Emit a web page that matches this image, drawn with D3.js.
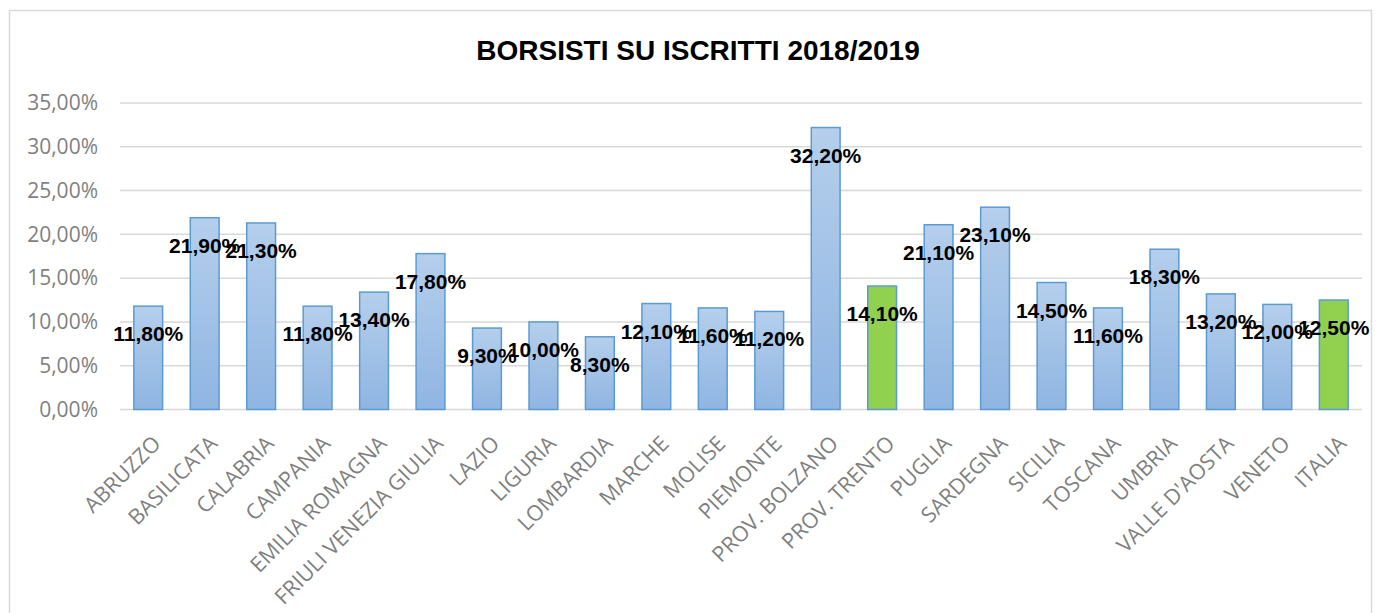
<!DOCTYPE html>
<html>
<head>
<meta charset="utf-8">
<script src="https://cdn.jsdelivr.net/npm/d3@7"></script>
<style>
  body { margin: 0; background: #fff; }
  svg { display: block; }
</style>
</head>
<body>
<div id="chart"></div>
<script>
// Borsisti su iscritti bar chart

// chart data
const regions = ["ABRUZZO", "BASILICATA", "CALABRIA", "CAMPANIA", "EMILIA ROMAGNA",
  "FRIULI VENEZIA GIULIA", "LAZIO", "LIGURIA", "LOMBARDIA", "MARCHE", "MOLISE",
  "PIEMONTE", "PROV. BOLZANO", "PROV. TRENTO", "PUGLIA", "SARDEGNA", "SICILIA",
  "TOSCANA", "UMBRIA", "VALLE D'AOSTA", "VENETO", "ITALIA"];
const values = [11.8, 21.9, 21.3, 11.8, 13.4, 17.8, 9.3, 10.0, 8.3, 12.1, 11.6,
  11.2, 32.2, 14.1, 21.1, 23.1, 14.5, 11.6, 18.3, 13.2, 12.0, 12.5];
const highlighted = ["PROV. TRENTO", "ITALIA"]; // green bars
const yTicks = [0, 5, 10, 15, 20, 25, 30, 35];
const title = "BORSISTI SU ISCRITTI 2018/2019";

const width = 1381,
    height = 613,
    margin = ({ top: 103, right: 19, bottom: 203.5, left: 120 });

const data = regions.map((r, i) => ({ region: r, value: values[i] }));

const svg = d3.select("#chart")
  .append("svg")
  .attr("width", width)
  .attr("height", height);

// bar gradient
const grad = svg.append("defs").append("linearGradient")
  .attr("id", "barGrad")
  .attr("x1", 0).attr("y1", 0).attr("x2", 0).attr("y2", 1);
grad.append("stop").attr("offset", "0%").attr("stop-color", "#b5cfec");
grad.append("stop").attr("offset", "100%").attr("stop-color", "#8fb5e2");

// outer frame
svg.append("rect")
  .attr("x", 9.5).attr("y", 10.5)
  .attr("width", 1362).attr("height", 620)
  .attr("fill", "#fff")
  .attr("stroke", "#d9d9d9")
  .attr("stroke-width", 1.5);

let x = d3.scaleBand()
  .domain(regions)
  .range([margin.left, width - margin.right])
  .paddingInner(0.49)
  .paddingOuter(0.245);

let y = d3.scaleLinear()
  .domain([0, 35])
  .range([height - margin.bottom, margin.top]);

// gridlines
svg.append("g")
  .selectAll("line")
  .data(yTicks)
  .join("line")
  .attr("x1", margin.left)
  .attr("x2", width - margin.right)
  .attr("y1", d => y(d))
  .attr("y2", d => y(d))
  .attr("stroke", "#d9d9d9")
  .attr("stroke-width", 1.5);

// y axis labels
svg.append("g")
  .attr("transform", `translate(${margin.left},0)`)
  .call(d3.axisLeft(y)
    .tickValues(yTicks)
    .tickSize(0)
    .tickPadding(22)
    .tickFormat(d => d3.format(".2f")(d).replace(".", ",") + "%"))
  .call(g => g.select(".domain").remove())
  .call(g => g.selectAll("text")
    .attr("fill", "#7f7f7f")
    .attr("font-family", "Open Sans, sans-serif")
    .attr("font-size", "21px"));

// bars
svg.append("g")
  .selectAll("rect")
  .data(data)
  .join("rect")
  .attr("x", d => x(d.region))
  .attr("y", d => y(d.value))
  .attr("width", x.bandwidth())
  .attr("height", d => y(0) - y(d.value))
  .attr("fill", d => highlighted.includes(d.region) ? "#92d050" : "url(#barGrad)")
  .attr("stroke", "#5b9bd5")
  .attr("stroke-width", 1.5);

// x axis labels
svg.append("g")
  .selectAll("text")
  .data(data)
  .join("text")
  .attr("transform", d => `translate(${x(d.region) + x.bandwidth() / 2 + 3},434) rotate(-45)`)
  .attr("text-anchor", "end")
  .attr("dy", "0.72em")
  .attr("fill", "#7f7f7f")
  .attr("font-family", "Open Sans, sans-serif")
  .attr("font-size", "21.5px")
  .text(d => d.region);

// value labels
svg.append("g")
  .selectAll("text")
  .data(data)
  .join("text")
  .attr("x", d => x(d.region) + x.bandwidth() / 2)
  .attr("y", d => y(d.value) + 35)
  .attr("text-anchor", "middle")
  .attr("font-family", "Liberation Sans, Arial, sans-serif")
  .attr("font-weight", "bold")
  .attr("font-size", "21px")
  .attr("fill", "#000")
  .text(d => d3.format(".2f")(d.value).replace(".", ",") + "%");

// title
svg.append("text")
  .attr("x", 698)
  .attr("y", 60)
  .attr("text-anchor", "middle")
  .attr("font-family", "Liberation Sans, Arial, sans-serif")
  .attr("font-weight", "bold")
  .attr("font-size", "28px")
  .attr("fill", "#000")
  .text(title);
</script>
</body>
</html>
